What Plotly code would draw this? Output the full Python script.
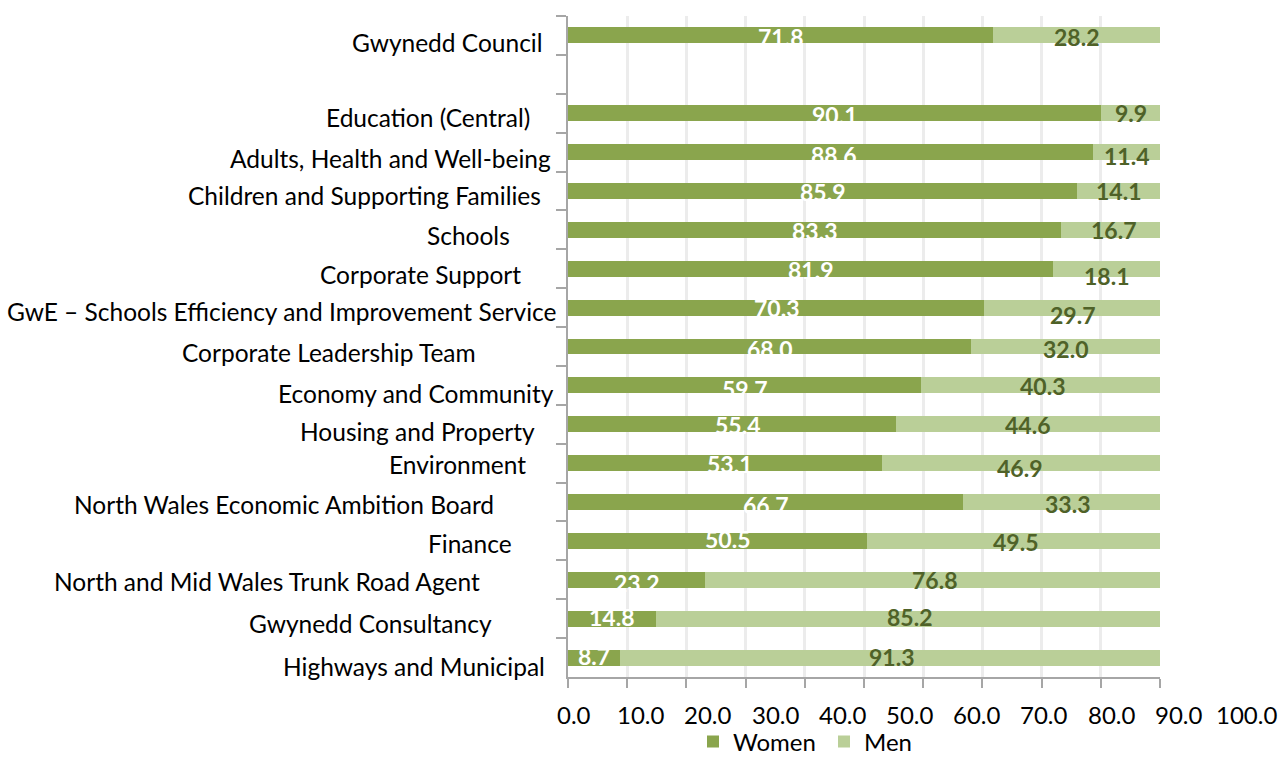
import plotly.graph_objects as go

# ---------------- data ----------------
categories = [
    "Gwynedd Council", " ", "Education (Central)", "Adults, Health and Well-being",
    "Children and Supporting Families", "Schools", "Corporate Support",
    "GwE – Schools Efficiency and Improvement Service", "Corporate Leadership Team",
    "Economy and Community", "Housing and Property", "Environment",
    "North Wales Economic Ambition Board", "Finance",
    "North and Mid Wales Trunk Road Agent", "Gwynedd Consultancy", "Highways and Municipal",
]
women = [71.8, None, 90.1, 88.6, 85.9, 83.3, 81.9, 70.3, 68.0, 59.7, 55.4, 53.1, 66.7, 50.5, 23.2, 14.8, 8.7]
men = [28.2, None, 9.9, 11.4, 14.1, 16.7, 18.1, 29.7, 32.0, 40.3, 44.6, 46.9, 33.3, 49.5, 76.8, 85.2, 91.3]
tick_values = [0, 10, 20, 30, 40, 50, 60, 70, 80, 90, 100]
series_names = ["Women", "Men"]

# ---------------- style ----------------
W, H = 1284, 760
ML, MR, MT, MB = 568, 124, 16, 83
FONT = "Lato, 'Open Sans', sans-serif"
C_WOMEN = "#8aa54d"
C_MEN = "#bacf98"
C_MEN_TXT = "#4f6228"
AX_COL = "#a6a6a6"
GRID_COL = "#ececec"

# category label placement (right edge px, vertical nudge px downward)
label_right_px = [545, None, 532, 553, 543, 512, 523, 558, 478, 556, 537, 528, 496, 514, 482, 494, 547]
label_down_px = [7, 0, 4, 6, 5, 6, 6, 4, 6, 8, 7, 1, 2, 3, 2, 5, 9]
# data label nudges (px)
w_down = [2, 0, 2, 3, 1.5, 1.5, 1, 0, 2, 4, 1, 1, 2.5, -2, 3, -2, -1.5]
w_right = [0, 0, 0, 3, 0, 0, 0, 0, 0, 0, 6, 4, 0, 10, 0, 0, 0]
m_down = [2, 0, 0, 4, 0, 0, 7, 7, 2.5, 1, 1, 5, 1.5, 1, 0.5, -1.5, -0.5]
m_right = [0, 0, 0, 0, 0, 3, 0, 0, 0, 2, 0, -2, 6, 2, 2, 2, 2]
# tick label placement: linear map of value -> px
TICK_X0, TICK_PX_PER_UNIT = 574.0, 6.72
TICK_Y_PX = 714

n = len(categories)

fig = go.Figure()
fig.add_trace(go.Bar(y=categories, x=women, orientation="h", name=series_names[0],
                     marker=dict(color=C_WOMEN, line=dict(width=0)), width=0.41))
fig.add_trace(go.Bar(y=categories, x=men, orientation="h", name=series_names[1],
                     marker=dict(color=C_MEN, line=dict(width=0)), width=0.41))

pw = W - ML - MR
ph = H - MT - MB

annotations = []
for i, cat in enumerate(categories):
    if label_right_px[i] is not None:
        annotations.append(dict(
            text=cat, xref="paper", x=(label_right_px[i] - ML) / pw,
            xanchor="right", yref="y", y=cat, yanchor="middle", yshift=-label_down_px[i],
            showarrow=False, font=dict(family=FONT, size=24.5, color="#000000")))
    if women[i] is not None:
        annotations.append(dict(
            text=f"{women[i]:.1f}", xref="x", x=women[i] / 2, yref="y", y=cat,
            xshift=w_right[i], yshift=-w_down[i], showarrow=False,
            font=dict(family=FONT, size=23, color="#ffffff", weight="bold")))
    if men[i] is not None:
        annotations.append(dict(
            text=f"{men[i]:.1f}", xref="x", x=women[i] + men[i] / 2, yref="y", y=cat,
            xshift=m_right[i], yshift=-m_down[i], showarrow=False,
            font=dict(family=FONT, size=23, color=C_MEN_TXT, weight="bold")))

for v in tick_values:
    px = TICK_X0 + v * TICK_PX_PER_UNIT
    annotations.append(dict(
        text=f"{v:.1f}", xref="paper", x=(px - ML) / pw, xanchor="center",
        yref="paper", y=(H - MB - TICK_Y_PX) / ph, yanchor="middle",
        showarrow=False, font=dict(family=FONT, size=24, color="#000000")))

fig.update_layout(
    width=W, height=H,
    margin=dict(l=ML, r=MR, t=MT, b=MB, autoexpand=False),
    barmode="stack",
    paper_bgcolor="white", plot_bgcolor="white",
    showlegend=True,
    legend=dict(orientation="h", x=(693 - ML) / pw, xanchor="left",
                y=(H - MB - 742) / ph, yanchor="middle",
                font=dict(family=FONT, size=24, color="#000000"),
                bgcolor="rgba(0,0,0,0)", entrywidth=86, traceorder="normal"),
    xaxis=dict(range=[0, 100], dtick=10, tick0=0, showgrid=True, gridcolor=GRID_COL,
               gridwidth=3, zeroline=False, showline=True, linecolor=AX_COL, linewidth=2,
               ticks="outside", ticklen=9, tickwidth=2, tickcolor=AX_COL,
               showticklabels=False, fixedrange=True),
    yaxis=dict(categoryorder="array", categoryarray=categories,
               range=[n - 0.5, -0.5], autorange=False,
               showgrid=False, zeroline=False, showline=True, linecolor=AX_COL, linewidth=2,
               ticks="outside", ticklen=10, tickwidth=2, tickcolor=AX_COL,
               tickson="boundaries", showticklabels=False, fixedrange=True),
    annotations=annotations,
    hovermode=False,
)

fig.write_html("out.html")
